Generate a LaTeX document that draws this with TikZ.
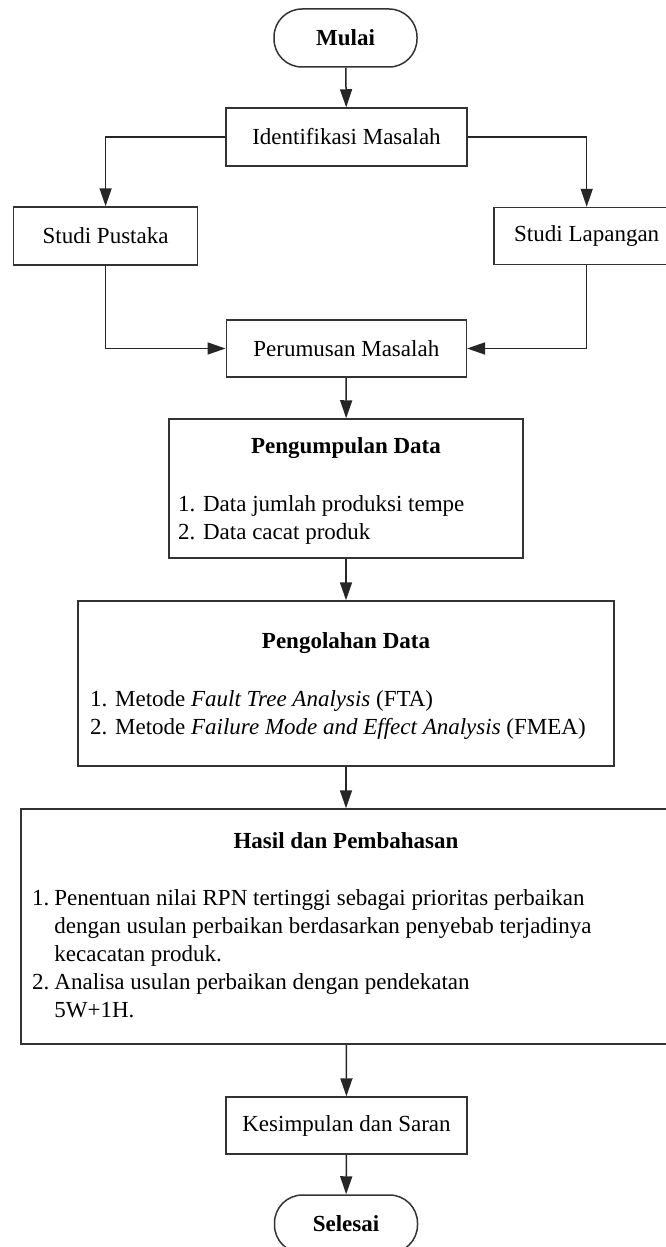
\documentclass[tikz,border=0pt]{standalone}
\usepackage{fontspec}
\setmainfont{Liberation Serif}
\usetikzlibrary{arrows.meta}
\begin{document}
\begin{tikzpicture}[x=1pt,y=-1pt,
  box/.style={draw=black!80, line width=1.5pt, rectangle, inner sep=0pt, font=\fontsize{23}{28}\selectfont},
  term/.style={box, rounded corners=28pt, font=\fontsize{23}{28}\selectfont\bfseries, minimum width=143pt, minimum height=58pt},
  txt/.style={inner sep=0pt, font=\fontsize{23}{28}\selectfont, align=left},
  ttl/.style={inner sep=0pt, font=\fontsize{23}{28}\selectfont\bfseries, anchor=base},
  arr/.style={draw=black!85, line width=1.5pt, -{Triangle[length=18pt,width=12pt]}},
]
\useasboundingbox (0,0) rectangle (665,1247);
\fill[white] (0,0) rectangle (665,1247);

\node[term] (mulai) at (345.5,38) {Mulai};
\node[box, minimum width=241pt, minimum height=58pt] (ident) at (346.5,137) {Identifikasi Masalah};
\node[box, minimum width=184pt, minimum height=58pt] (pustaka) at (105.6,236) {Studi Pustaka};
\node[box, minimum width=185pt, minimum height=57pt] (lapangan) at (586.7,236) {Studi Lapangan};
\node[box, minimum width=240pt, minimum height=57pt] (perumusan) at (346.3,348.5) {Perumusan Masalah};

\node[box, minimum width=354pt, minimum height=139pt] (kumpul) at (346,488.5) {};
\node[ttl] (kumpulT) at (346,453) {Pengumpulan Data};
\node[txt, anchor=base west] (kumpulL) at (178,511) {\begin{tabular}[t]{@{}l@{}}1. Data jumlah produksi tempe\\2. Data cacat produk\end{tabular}};

\node[box, minimum width=536pt, minimum height=165pt] (olah) at (346,683.5) {};
\node[ttl] (olahT) at (346,648) {Pengolahan Data};
\node[txt, anchor=base west] (olahL) at (90,706) {\begin{tabular}[t]{@{}l@{}}1. Metode \textit{Fault Tree Analysis} (FTA)\\2. Metode \textit{Failure Mode and Effect Analysis} (FMEA)\end{tabular}};

\node[box, minimum width=650pt, minimum height=235pt] (hasil) at (346,926.5) {};
\node[ttl] (hasilT) at (346,848) {Hasil dan Pembahasan};
\node[txt, anchor=base west] (hasilL) at (32,905) {\begin{tabular}[t]{@{}l@{\hspace{5pt}}l@{}}1. & Penentuan nilai RPN tertinggi sebagai prioritas perbaikan\\
 & dengan usulan perbaikan berdasarkan penyebab terjadinya\\
 & kecacatan produk.\\
2. & Analisa usulan perbaikan dengan pendekatan\\
 & 5W+1H.\end{tabular}};

\node[box, minimum width=241pt, minimum height=57pt] (simpul) at (346.5,1125.5) {Kesimpulan dan Saran};
\node[term] (selesai) at (346,1224) {Selesai};

\draw[arr] (mulai) -- (ident);
\draw[arr] (ident.west) -| (pustaka.north);
\draw[arr] (ident.east) -| (lapangan.north);
\draw[arr] (pustaka.south) |- (perumusan.west);
\draw[arr] (lapangan.south) |- (perumusan.east);
\draw[arr] (perumusan) -- (kumpul);
\draw[arr] (kumpul) -- (olah);
\draw[arr] (olah) -- (hasil);
\draw[arr] (hasil) -- (simpul);
\draw[arr] (simpul) -- (selesai);
\end{tikzpicture}
\end{document}
